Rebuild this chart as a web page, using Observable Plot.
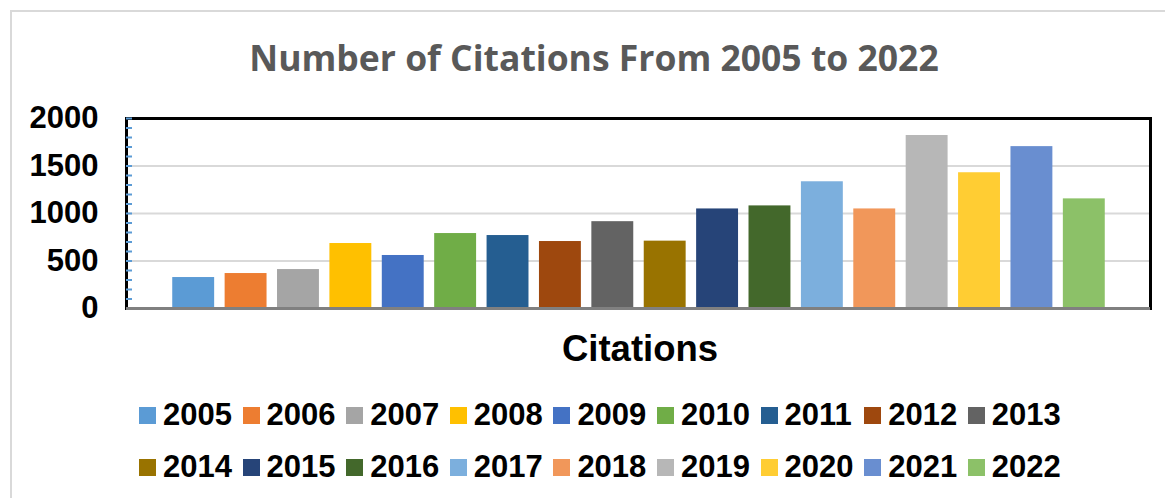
<!DOCTYPE html>
<html>
<head>
<meta charset="utf-8">
<script src="https://cdn.jsdelivr.net/npm/d3@7"></script>
<script src="https://cdn.jsdelivr.net/npm/@observablehq/plot@0.6"></script>
<style>
  html, body { margin: 0; padding: 0; background: #fff; overflow: hidden; width: 1165px; height: 498px; }
  #border { position: absolute; left: 10px; top: 10px; width: 1200px; height: 600px; border: 2px solid #d9d9d9; box-sizing: border-box; }
  #title { position: absolute; left: 0; width: 1188px; top: 40px; text-align: center; font-family: "Open Sans", sans-serif; font-weight: 700; font-size: 35.5px; color: #595959; line-height: 1; }
  #chart { position: absolute; left: 0; top: 100px; }
  #xlabel { position: absolute; left: 0; width: 1280px; top: 331px; text-align: center; font-family: "Liberation Sans", Arial, sans-serif; font-weight: 700; font-size: 36.5px; color: #000; line-height: 1; }
  #legend { position: absolute; left: 139px; top: 398px; display: grid; grid-template-columns: repeat(9, 103.6px); grid-auto-rows: 52px; font-family: "Liberation Sans", Arial, sans-serif; font-weight: 700; font-size: 31px; color: #000; }
  .item { display: flex; align-items: center; height: 34px; }
  .sw { width: 17px; height: 17px; margin-right: 7px; flex: none; }
</style>
</head>
<body>
<div id="border"></div>
<div id="title">Number of Citations From 2005 to 2022</div>
<div id="chart"></div>
<div id="xlabel">Citations</div>
<div id="legend"></div>
<script>
const years = ["2005","2006","2007","2008","2009","2010","2011","2012","2013","2014","2015","2016","2017","2018","2019","2020","2021","2022"];
const citations = [326, 368, 410, 684, 558, 789, 768, 705, 914, 709, 1048, 1080, 1334, 1048, 1821, 1429, 1704, 1154];
const colors = ["#5B9BD5","#ED7D31","#A5A5A5","#FFC000","#4472C4","#70AD47","#255E91","#9E480E","#636363","#997300","#264478","#43682B","#7CAFDD","#F1975A","#B7B7B7","#FFCD33","#698ED0","#8CC168"];
const yTicks = [0, 500, 1000, 1500, 2000];
const yGrid = [500, 1000, 1500];
const yMinorTicks = d3.range(0, 2001, 100);

const data = years.map((y, i) => ({year: y, value: citations[i]}));

const chart = Plot.plot({
  width: 1165,
  height: 280,
  marginLeft: 126,
  marginRight: 15,
  marginTop: 18,
  marginBottom: 72,
  style: {background: "transparent", overflow: "visible"},
  x: {domain: years, paddingInner: 0.2, paddingOuter: 0.1, insetLeft: 41, insetRight: 40, round: false, axis: null},
  y: {domain: [0, 2000], axis: null},
  color: {domain: years, range: colors},
  marks: [
    Plot.gridY(yGrid, {stroke: "#d9d9d9", strokeOpacity: 1, strokeWidth: 2}),
    Plot.barY(data, {x: "year", y: "value", fill: "year"}),
    Plot.frame({stroke: "#000", strokeWidth: 3}),
    Plot.axisY(yMinorTicks, {anchor: "left", tickSize: -6, tickFormat: () => "", stroke: "#5B9BD5", strokeWidth: 2, strokeOpacity: 1, label: null}),
    Plot.axisY(yTicks, {anchor: "left", tickSize: 0, tickPadding: 28, tickFormat: d => String(d), fontSize: 31, fontWeight: "bold", fontFamily: "Liberation Sans, Arial, sans-serif", fill: "#000", label: null}),
    Plot.ruleY([0], {stroke: "#808080", strokeWidth: 3})
  ]
});
document.getElementById("chart").appendChild(chart);

const legend = document.getElementById("legend");
years.forEach((y, i) => {
  const item = document.createElement("div");
  item.className = "item";
  const sw = document.createElement("span");
  sw.className = "sw";
  sw.style.background = colors[i];
  const t = document.createElement("span");
  t.textContent = y;
  item.appendChild(sw);
  item.appendChild(t);
  legend.appendChild(item);
});
</script>
</body>
</html>
